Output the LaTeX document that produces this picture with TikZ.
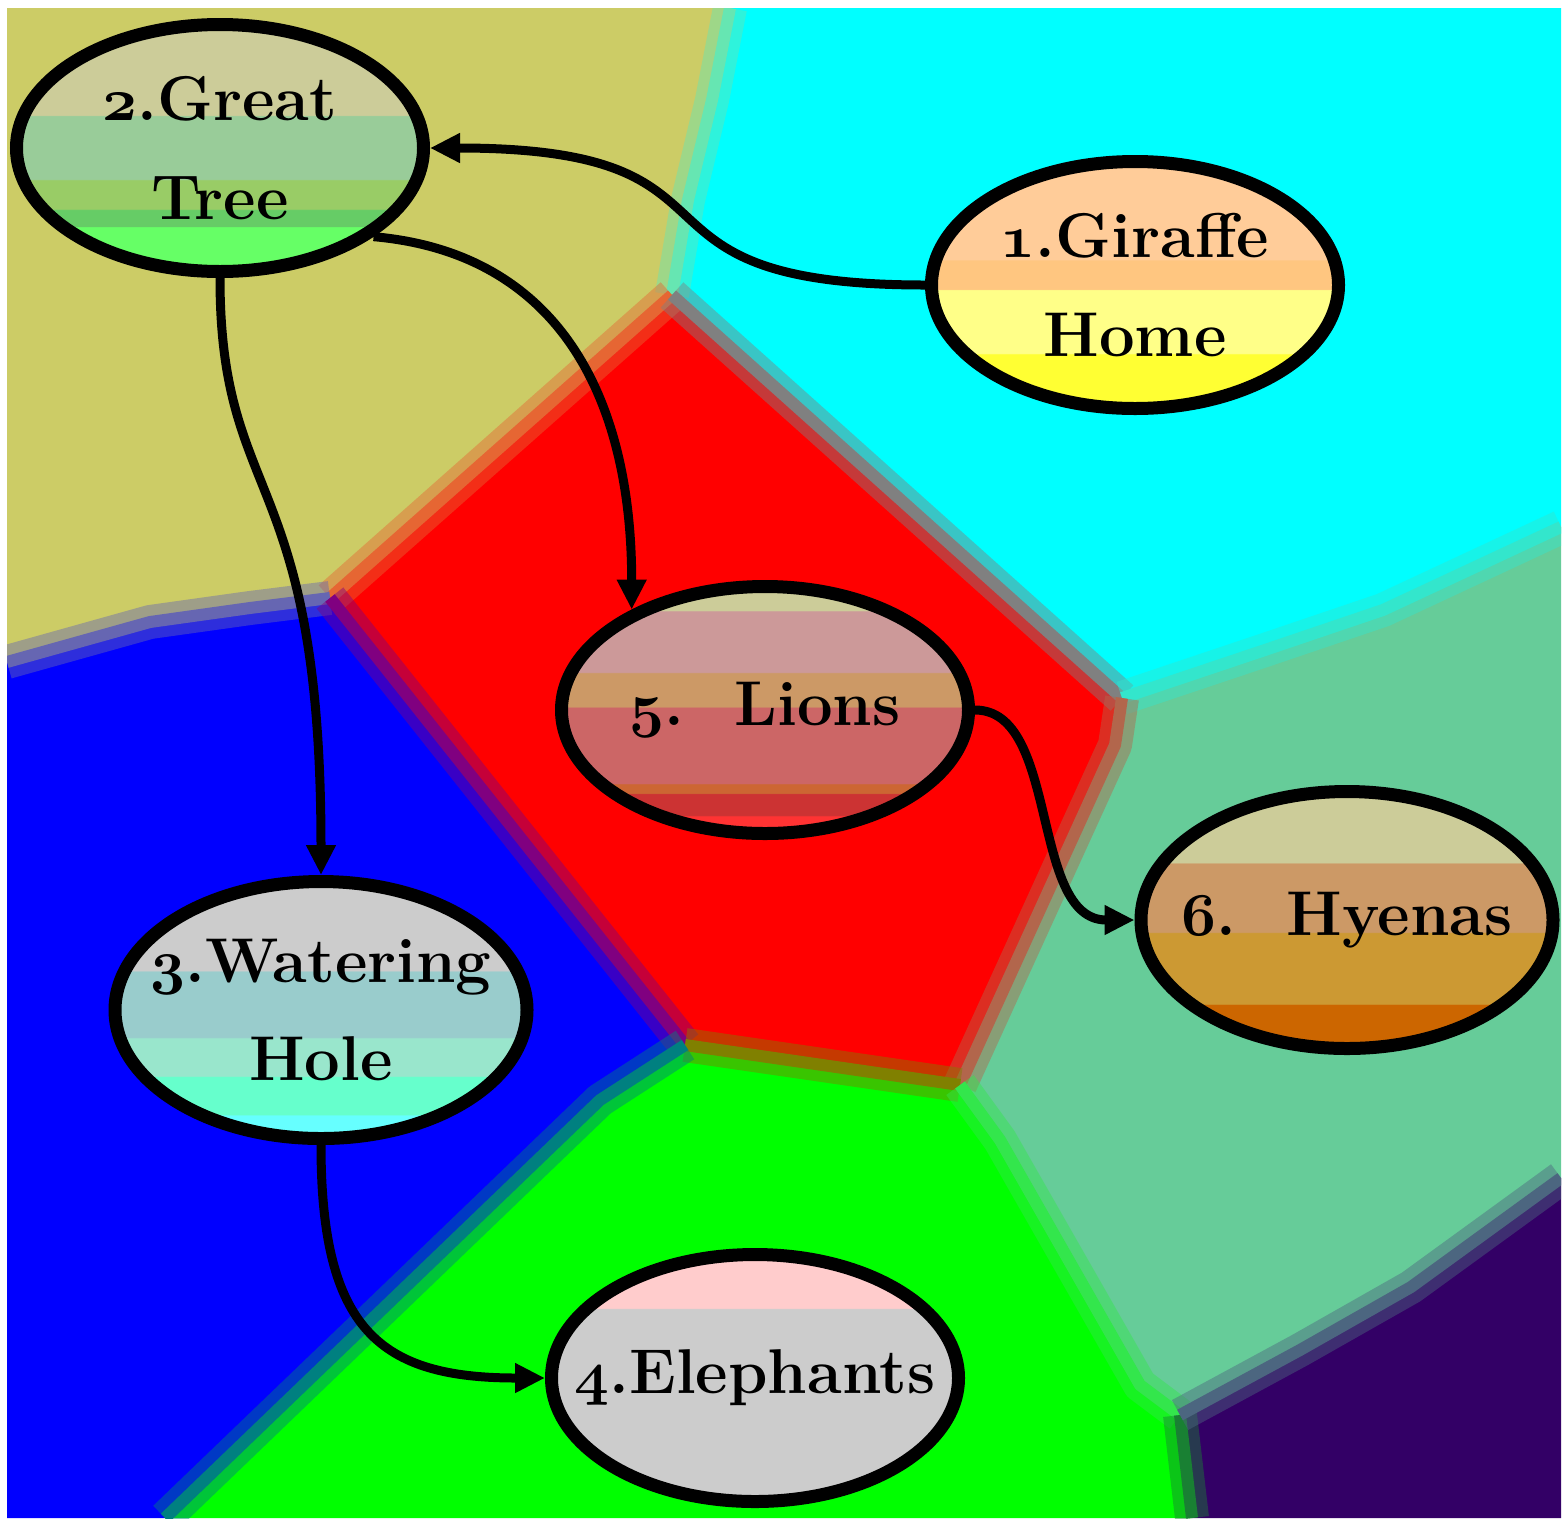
\documentclass[tikz,border=0pt]{standalone}
\usetikzlibrary{shapes.geometric,arrows.meta}

\definecolor{olivearea}{HTML}{CCCC66}
\definecolor{cyanarea}{HTML}{00FFFF}
\definecolor{redarea}{HTML}{FF0000}
\definecolor{bluearea}{HTML}{0000FF}
\definecolor{greenarea}{HTML}{00FF00}
\definecolor{tealarea}{HTML}{66CC99}
\definecolor{purplearea}{HTML}{330066}

% stripes of the place ovals, top to bottom
\definecolor{treeA}{HTML}{CCCC99}
\definecolor{treeB}{HTML}{99CC99}
\definecolor{treeC}{HTML}{99CC66}
\definecolor{treeD}{HTML}{66CC66}
\definecolor{treeE}{HTML}{66FF66}
\definecolor{giraA}{HTML}{FFCC99}
\definecolor{giraB}{HTML}{FFC680}
\definecolor{giraC}{HTML}{FFFF88}
\definecolor{giraD}{HTML}{FFFF33}
\definecolor{lionA}{HTML}{CCCC99}
\definecolor{lionB}{HTML}{CC9999}
\definecolor{lionC}{HTML}{CC9966}
\definecolor{lionD}{HTML}{CC6666}
\definecolor{lionE}{HTML}{CC6633}
\definecolor{lionF}{HTML}{CC3333}
\definecolor{lionG}{HTML}{FF3333}
\definecolor{hyenA}{HTML}{CCCC99}
\definecolor{hyenB}{HTML}{CC9966}
\definecolor{hyenC}{HTML}{CC9933}
\definecolor{hyenD}{HTML}{CC6600}
\definecolor{holeA}{HTML}{CCCCCC}
\definecolor{holeB}{HTML}{99CCCC}
\definecolor{holeC}{HTML}{99E6CC}
\definecolor{holeD}{HTML}{66FFCC}
\definecolor{holeE}{HTML}{66FFFF}
\definecolor{elephA}{HTML}{FFCCCC}
\definecolor{elephB}{HTML}{CCCCCC}

\pgfdeclareverticalshading{treefill}{100bp}{color(0bp)=(treeE); color(34bp)=(treeE);
  color(34.2bp)=(treeD); color(37.5bp)=(treeD); color(37.7bp)=(treeC); color(43.5bp)=(treeC);
  color(43.7bp)=(treeB); color(56.5bp)=(treeB); color(56.7bp)=(treeA); color(100bp)=(treeA)}
\pgfdeclareverticalshading{girafill}{100bp}{color(0bp)=(giraD); color(36bp)=(giraD);
  color(36.2bp)=(giraC); color(49bp)=(giraC); color(49.2bp)=(giraB); color(55bp)=(giraB);
  color(55.2bp)=(giraA); color(100bp)=(giraA)}
\pgfdeclareverticalshading{lionfill}{100bp}{color(0bp)=(lionG); color(28.5bp)=(lionG);
  color(28.7bp)=(lionF); color(33bp)=(lionF); color(33.2bp)=(lionE); color(35bp)=(lionE);
  color(35.2bp)=(lionD); color(50.5bp)=(lionD); color(50.7bp)=(lionC); color(57.5bp)=(lionC);
  color(57.7bp)=(lionB); color(70bp)=(lionB); color(70.2bp)=(lionA); color(100bp)=(lionA)}
\pgfdeclareverticalshading{hyenfill}{100bp}{color(0bp)=(hyenD); color(33.5bp)=(hyenD);
  color(33.7bp)=(hyenC); color(47.5bp)=(hyenC); color(47.7bp)=(hyenB); color(61bp)=(hyenB);
  color(61.2bp)=(hyenA); color(100bp)=(hyenA)}
\pgfdeclareverticalshading{holefill}{100bp}{color(0bp)=(holeE); color(29.5bp)=(holeE);
  color(29.7bp)=(holeD); color(37bp)=(holeD); color(37.2bp)=(holeC); color(44.5bp)=(holeC);
  color(44.7bp)=(holeB); color(57.5bp)=(holeB); color(57.7bp)=(holeA); color(100bp)=(holeA)}
\pgfdeclareverticalshading{elephfill}{100bp}{color(0bp)=(elephB); color(64bp)=(elephB);
  color(64.2bp)=(elephA); color(100bp)=(elephA)}

% bold old-style figure
\newcommand{\onum}[1]{{\usefont{OML}{cmm}{b}{it}#1}}

\begin{document}
\begin{tikzpicture}[
    place/.style={ellipse,draw=black,line width=0.13cm,minimum width=4.07cm,
      minimum height=2.47cm,inner sep=-1cm,align=center,shade,
      font=\bfseries\fontsize{18}{28}\selectfont},
    seam/.style={draw=#1,line width=0.34cm,draw opacity=0.45,line join=round},
    seamcore/.style={draw=#1,line width=0.12cm,line join=round}]

  \useasboundingbox (0,0) rectangle (15.65,-15.18);
  \fill[white] (0,0) rectangle (15.65,-15.18);

  % corners of the map and meeting points of the areas
  \coordinate (cTL) at (0.07,-0.08);
  \coordinate (cTR) at (15.61,-0.08);
  \coordinate (cBR) at (15.61,-15.18);
  \coordinate (cBL) at (0.07,-15.18);
  \coordinate (pA) at (7.30,-0.08);
  \coordinate (pB) at (7.12,-1.00);
  \coordinate (pC) at (6.88,-2.00);
  \coordinate (pD) at (6.72,-2.95);
  \coordinate (pE) at (11.22,-6.98);
  \coordinate (pF) at (12.65,-6.50);
  \coordinate (pG) at (13.83,-6.10);
  \coordinate (pH) at (15.61,-5.27);
  \coordinate (pI) at (3.30,-5.98);
  \coordinate (pJ) at (2.50,-6.08);
  \coordinate (pK) at (1.50,-6.22);
  \coordinate (pL) at (0.07,-6.62);
  \coordinate (pM) at (11.15,-7.45);
  \coordinate (pN) at (9.60,-10.85);
  \coordinate (pO) at (6.85,-10.45);
  \coordinate (pP) at (6.00,-11.00);
  \coordinate (pQ) at (1.65,-15.18);
  \coordinate (pR) at (10.00,-11.40);
  \coordinate (pS) at (11.40,-13.85);
  \coordinate (pT) at (11.80,-14.15);
  \coordinate (pU) at (11.92,-15.18);
  \coordinate (pV) at (13.00,-13.50);
  \coordinate (pW) at (14.11,-12.87);
  \coordinate (pX) at (15.61,-11.78);

  \begin{scope}
    \clip (cTL) rectangle (cBR);
    \fill[olivearea] (cTL) -- (pA) -- (pB) -- (pC) -- (pD) -- (pI) -- (pJ) -- (pK) -- (pL) -- cycle;
    \fill[cyanarea] (pA) -- (cTR) -- (pH) -- (pG) -- (pF) -- (pE) -- (pD) -- (pC) -- (pB) -- cycle;
    \fill[redarea] (pD) -- (pE) -- (pM) -- (pN) -- (pO) -- (pI) -- cycle;
    \fill[bluearea] (pL) -- (pK) -- (pJ) -- (pI) -- (pO) -- (pP) -- (pQ) -- (cBL) -- cycle;
    \fill[greenarea] (pO) -- (pN) -- (pR) -- (pS) -- (pT) -- (pU) -- (pQ) -- (pP) -- cycle;
    \fill[tealarea] (pE) -- (pF) -- (pG) -- (pH) -- (pX) -- (pW) -- (pV) -- (pT) -- (pS) -- (pR) -- (pN) -- (pM) -- cycle;
    \fill[purplearea] (pT) -- (pV) -- (pW) -- (pX) -- (cBR) -- (pU) -- cycle;

    \foreach \mix/\route in {
        olivearea!50!cyanarea/{(pA) -- (pB) -- (pC) -- (pD)},
        olivearea!50!redarea/{(pD) -- (pI)},
        olivearea!50!bluearea/{(pI) -- (pJ) -- (pK) -- (pL)},
        cyanarea!50!redarea/{(pD) -- (pE)},
        cyanarea!50!tealarea/{(pE) -- (pF) -- (pG) -- (pH)},
        redarea!50!tealarea/{(pE) -- (pM) -- (pN)},
        redarea!50!bluearea/{(pI) -- (pO)},
        redarea!50!greenarea/{(pO) -- (pN)},
        bluearea!50!greenarea/{(pO) -- (pP) -- (pQ)},
        greenarea!50!tealarea/{(pN) -- (pR) -- (pS) -- (pT)},
        greenarea!50!purplearea/{(pT) -- (pU)},
        tealarea!50!purplearea/{(pT) -- (pV) -- (pW) -- (pX)}} {
      \draw[seam=\mix] \route;
      \draw[seamcore=\mix] \route;
    }
  \end{scope}

  \node[place,shading=girafill] (giraffe) at (11.35,-2.85) {\onum{1}.Giraffe\\Home};
  \node[place,shading=treefill] (tree) at (2.20,-1.48) {\onum{2}.Great\\Tree};
  \node[place,shading=holefill,minimum width=4.12cm,minimum height=2.57cm] (hole) at (3.21,-10.10) {\onum{3}.Watering\\Hole};
  \node[place,shading=elephfill] (eleph) at (7.55,-13.78) {\onum{4}.Elephants};
  \node[place,shading=lionfill] (lions) at (7.65,-7.10) {\onum{5}.\hspace{0.8em}Lions};
  \node[place,shading=hyenfill,minimum width=4.12cm,minimum height=2.57cm] (hyenas) at (13.47,-9.20) {\onum{6}.\hspace{0.8em}Hyenas};

  \begin{scope}[every edge/.style={draw,line width=0.09cm,-{Triangle[length=0.3cm,width=0.28cm]}}]
    \path (giraffe.west) edge[out=180,in=0,out distance=3.25cm,in distance=3.4cm] (tree.east);
    \path (tree.south) edge[out=-90,in=90,out distance=2.3cm,in distance=4.1cm] (hole.north);
    \path (tree.-30) edge[out=-5,in=90,out distance=1.8cm,in distance=2.2cm] (lions.143);
    \path (hole.south) edge[out=-90,in=180,out distance=1.85cm,in distance=1.65cm] (eleph.west);
    \path (lions.east) edge[out=0,in=180,out distance=0.85cm,in distance=1.05cm] (hyenas.west);
  \end{scope}

\end{tikzpicture}
\end{document}
